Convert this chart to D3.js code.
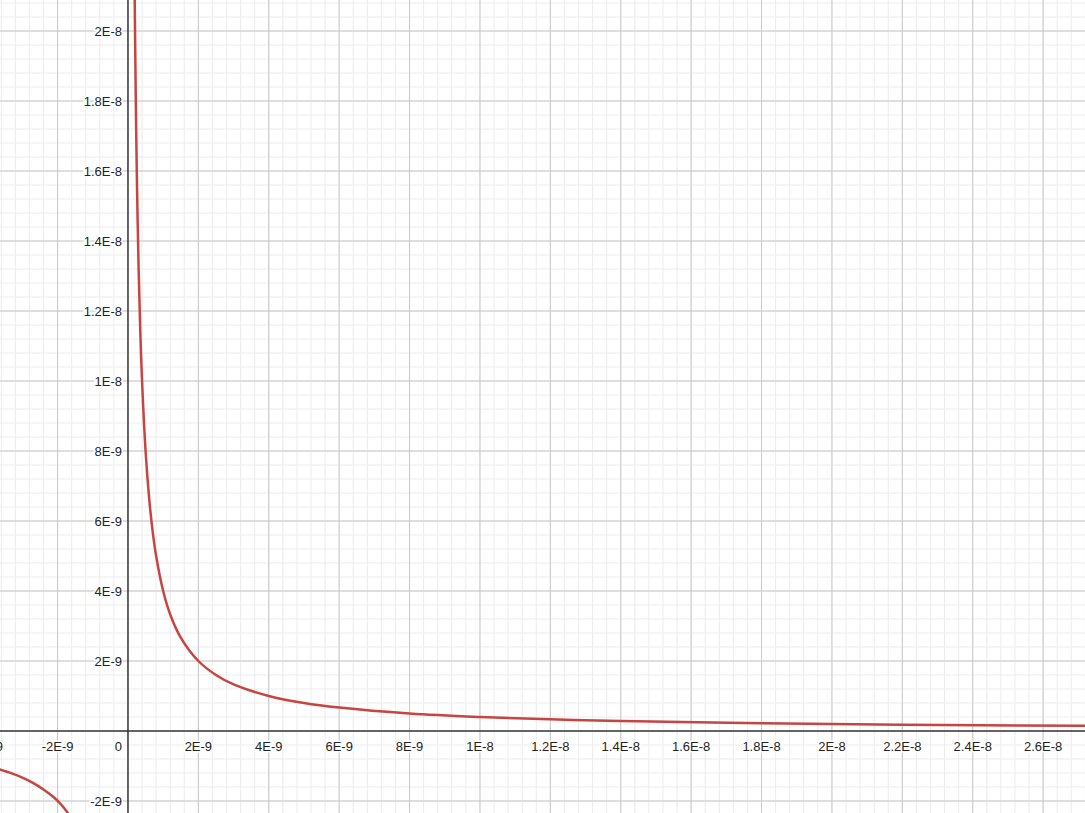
<!DOCTYPE html>
<html><head><meta charset="utf-8">
<script src="https://cdn.jsdelivr.net/npm/d3@7"></script>
<style>body{margin:0;background:#fff}svg{display:block}text{font-family:"Liberation Sans",Arial,sans-serif;font-size:13px;fill:#222}</style>
</head><body><svg id="c" width="1085" height="813"></svg>
<script>
// values in units of 1E-9
const xTicks = [-4,-2,2,4,6,8,10,12,14,16,18,20,22,24,26];
const xTickLabels = ["-4E-9","-2E-9","2E-9","4E-9","6E-9","8E-9","1E-8","1.2E-8","1.4E-8","1.6E-8","1.8E-8","2E-8","2.2E-8","2.4E-8","2.6E-8"];
const yTicks = [-2,2,4,6,8,10,12,14,16,18,20];
const yTickLabels = ["-2E-9","2E-9","4E-9","6E-9","8E-9","1E-8","1.2E-8","1.4E-8","1.6E-8","1.8E-8","2E-8"];
const rightX = [0.19,0.22,0.25,0.3,0.35,0.4,0.5,0.6,0.7,0.8,1,1.2,1.5,2,2.5,3,4,5,6,8,10,12,14,18,22,27.2];
const rightY = [21,18.2,16,13.3,11.4,10,8,6.67,5.71,5,4,3.33,2.67,2,1.6,1.33,1,0.8,0.67,0.5,0.4,0.333,0.286,0.222,0.182,0.147];
const leftX = [-3.7,-3.3,-3,-2.7,-2.4,-2.1,-1.9,-1.7];
const leftY = [-1.08,-1.21,-1.33,-1.48,-1.67,-1.9,-2.1,-2.35];

const W=1085,H=813;
const x=d3.scaleLinear().domain([-3.636,27.19]).range([0,W]);
const y=d3.scaleLinear().domain([-2.343,20.886]).range([H,0]);
const svg=d3.select("#c");
const g=svg.append("g");
// minor grid
for(let v=-3.6;v<=27.2;v+=0.4){const px=x(v);g.append("line").attr("x1",px).attr("x2",px).attr("y1",0).attr("y2",H).attr("stroke","#ececec");}
for(let v=-2.4;v<=21;v+=0.4){const py=y(v);g.append("line").attr("y1",py).attr("y2",py).attr("x1",0).attr("x2",W).attr("stroke","#ececec");}
// major grid
[-4,...xTicks.slice(1)].forEach(v=>g.append("line").attr("x1",x(v)).attr("x2",x(v)).attr("y1",0).attr("y2",H).attr("stroke","#c8c8c8"));
yTicks.forEach(v=>g.append("line").attr("y1",y(v)).attr("y2",y(v)).attr("x1",0).attr("x2",W).attr("stroke","#c8c8c8"));
// axes
g.append("line").attr("x1",x(0)).attr("x2",x(0)).attr("y1",0).attr("y2",H).attr("stroke","#333").attr("stroke-width",1.5);
g.append("line").attr("y1",y(0)).attr("y2",y(0)).attr("x1",0).attr("x2",W).attr("stroke","#333").attr("stroke-width",1.5);
// curves
const line=d3.line().x(d=>x(d[0])).y(d=>y(d[1])).curve(d3.curveCatmullRom);
[[rightX,rightY],[leftX,leftY]].forEach(([xs,ys])=>svg.append("path").datum(xs.map((v,i)=>[v,ys[i]])).attr("d",line).attr("fill","none").attr("stroke","#c74440").attr("stroke-width",2.5));
// labels
const lab=svg.append("g");
function t(px,py,s,anchor){lab.append("text").attr("x",px).attr("y",py).attr("text-anchor",anchor).attr("stroke","#fff").attr("stroke-width",3).attr("paint-order","stroke").text(s);}
xTicks.forEach((v,i)=>t(x(v),y(0)+20,xTickLabels[i],"middle"));
yTicks.forEach((v,i)=>t(x(0)-6,y(v)+5,yTickLabels[i],"end"));
t(x(0)-6,y(0)+20,"0","end");
</script></body></html>
